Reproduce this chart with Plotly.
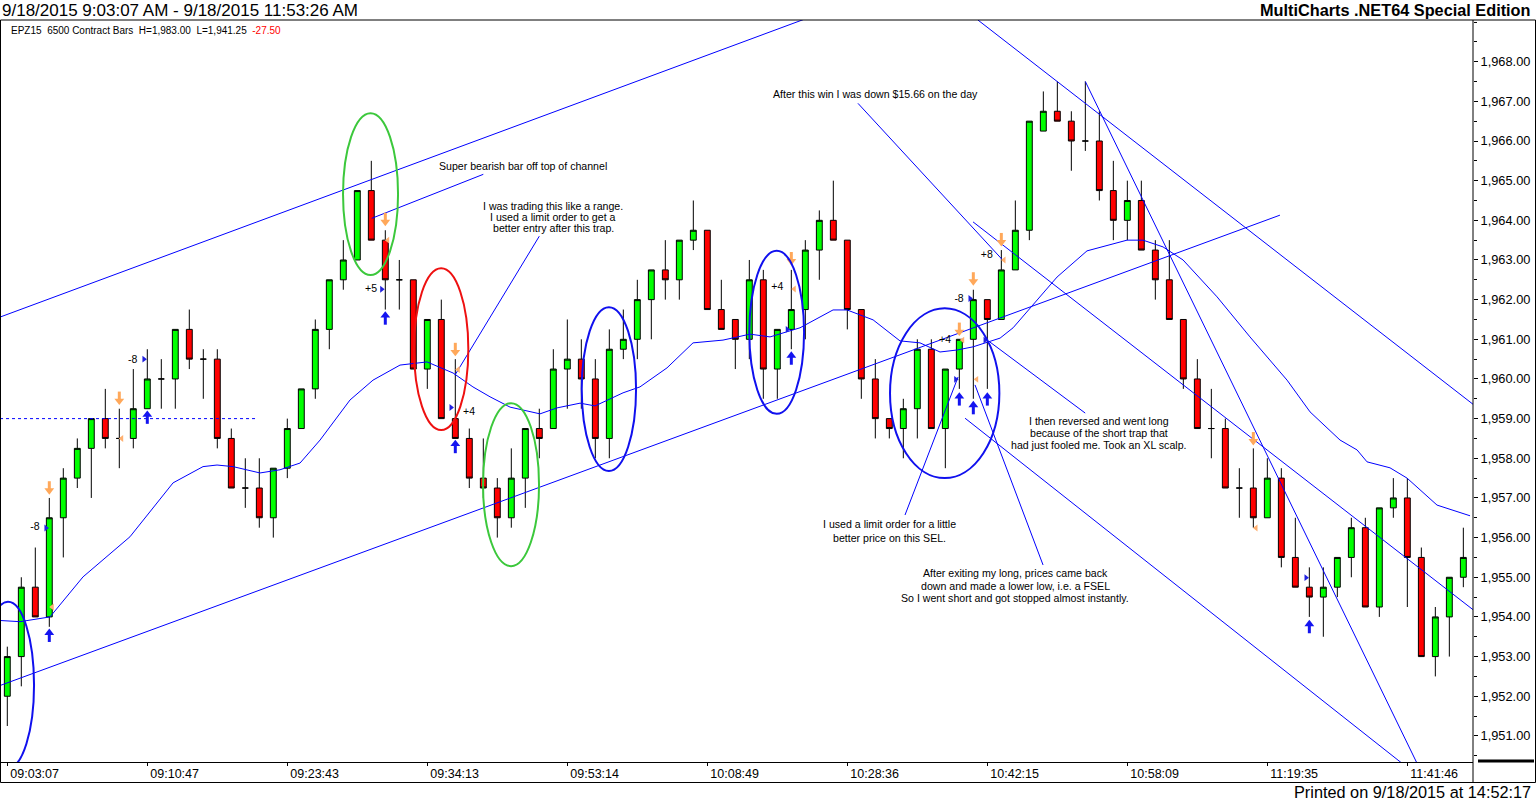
import plotly.graph_objects as go

# ---------------- data ----------------
bar_idx = list(range(105))
opens = [1952, 1953, 1954.75, 1954, 1956.5, 1957.5, 1958.25, 1959, 1958.5, 1958.5,
         1959.25, 1960, 1960, 1961.25, 1960.5, 1960.5, 1958.5, 1957.25, 1957.25, 1956.5,
         1957.75, 1958.75, 1959.75, 1961.25, 1962.5, 1963, 1964.75, 1963.5, 1962.5, 1962.5,
         1960.25, 1961.5, 1959, 1958.5, 1957.5, 1957.25, 1956.5, 1957.5, 1958.75, 1958.75,
         1960.25, 1960.5, 1960, 1958.5, 1960.75, 1961, 1962, 1962.75, 1962.5, 1963.5,
         1963.75, 1961.75, 1961.5, 1961, 1962.5, 1960.25, 1961.25, 1961.75, 1963.25, 1964,
         1963.5, 1961.75, 1960, 1959, 1958.75, 1959.25, 1960.75, 1958.75, 1960.25, 1961,
         1962, 1961.5, 1962.75, 1963.75, 1966.25, 1966.75, 1966.5, 1966, 1966, 1964.75,
         1964, 1964.5, 1963.25, 1962.5, 1961.5, 1960, 1958.75, 1958.75, 1957.25, 1957.25,
         1956.5, 1957.5, 1955.5, 1954.75, 1954.5, 1954.75, 1955.5, 1956.25, 1954.25, 1956.75,
         1957, 1955.5, 1953, 1954, 1955]
highs = [1953.25, 1955, 1955.75, 1957, 1957.75, 1958.5, 1959, 1959.75, 1959.25, 1960.25,
         1960.75, 1960.5, 1961.25, 1961.75, 1960.75, 1960.75, 1958.75, 1958, 1958, 1957.75,
         1959, 1959.75, 1961.5, 1962.5, 1963.5, 1964.75, 1965.5, 1963.75, 1963, 1962.5,
         1961.5, 1962, 1960.5, 1958.75, 1958.5, 1957.5, 1958.25, 1958.75, 1959.25, 1960.75,
         1961.5, 1961, 1960.5, 1961.25, 1961.75, 1962.5, 1962.75, 1963.5, 1963.5, 1964.5,
         1963.75, 1962.5, 1961.5, 1963, 1962.75, 1961.25, 1962.75, 1963.5, 1964.25, 1965,
         1963.5, 1961.75, 1960.5, 1959, 1959.5, 1961, 1961, 1960.25, 1961, 1962.25,
         1962, 1963.25, 1964.5, 1966.5, 1967.25, 1967.5, 1966.75, 1967.5, 1966.75, 1965.5,
         1965, 1965, 1963.5, 1963.5, 1961.5, 1960.5, 1959.75, 1959, 1957.75, 1958.25,
         1958, 1957.75, 1956.5, 1955.25, 1955.25, 1955.5, 1956.5, 1956.5, 1956.75, 1957.5,
         1957.5, 1955.75, 1954.25, 1955, 1956.25]
lows = [1951.25, 1952.25, 1954, 1953.75, 1955.5, 1957.25, 1957, 1958.25, 1957.75, 1958.25,
        1959.25, 1959.25, 1959.25, 1960.25, 1959.5, 1958.25, 1957.25, 1956.75, 1956.25, 1956,
        1957.5, 1958.75, 1959.5, 1960.75, 1962.25, 1963, 1963.5, 1961.75, 1961.75, 1960.25,
        1959.75, 1959, 1958.5, 1957.25, 1957, 1956, 1956.25, 1956.75, 1958, 1958.75,
        1959.25, 1959.25, 1958, 1958, 1960.5, 1960.5, 1961, 1962, 1962, 1963.25,
        1961.75, 1961.25, 1960.25, 1960.5, 1959.5, 1959.5, 1960.75, 1961, 1962.5, 1963.5,
        1961.25, 1959.5, 1958.5, 1958.5, 1958, 1958.5, 1958.75, 1957.75, 1959.75, 1959.5,
        1959.75, 1961.5, 1962.75, 1963.5, 1966.25, 1966.5, 1965.25, 1965.75, 1964.5, 1963.5,
        1963.5, 1963.25, 1962, 1961.5, 1959.75, 1958.75, 1958, 1957.25, 1956.5, 1956.25,
        1956.5, 1955.25, 1954.75, 1954, 1953.5, 1954.5, 1955, 1954.25, 1954, 1956.5,
        1954.25, 1953, 1952.5, 1953, 1954.75]
closes = [1953, 1954.75, 1954, 1956.5, 1957.5, 1958.25, 1959, 1958.5, 1958.5, 1959.25,
          1960, 1960, 1961.25, 1960.5, 1960.5, 1958.5, 1957.25, 1957.25, 1956.5, 1957.75,
          1958.75, 1959.75, 1961.25, 1962.5, 1963, 1964.75, 1963.5, 1962.5, 1962.5, 1960.25,
          1961.5, 1959, 1958.5, 1957.5, 1957.25, 1956.5, 1957.5, 1958.75, 1958.5, 1960.25,
          1960.5, 1960, 1958.5, 1960.75, 1961, 1962, 1962.75, 1962.5, 1963.5, 1963.75,
          1961.75, 1961.25, 1961, 1962.5, 1960.25, 1961.25, 1961.75, 1963.25, 1964, 1963.5,
          1961.75, 1960, 1959, 1958.75, 1959.25, 1960.75, 1958.75, 1960.25, 1961, 1962,
          1961.5, 1962.75, 1963.75, 1966.5, 1966.75, 1966.5, 1966, 1966, 1964.75, 1964,
          1964.5, 1963.25, 1962.5, 1961.5, 1960, 1958.75, 1958.75, 1957.25, 1957.25, 1956.5,
          1957.5, 1955.5, 1954.75, 1954.5, 1954.75, 1955.5, 1956.25, 1954.25, 1956.75, 1957,
          1955.5, 1953, 1954, 1955, 1955.5]

tick_bars = [0, 10, 20, 30, 40, 50, 60, 70, 80, 90, 100]
tick_times = ["09:03:07", "09:10:47", "09:23:43", "09:34:13", "09:53:14", "10:08:49",
              "10:28:36", "10:42:15", "10:58:09", "11:19:35", "11:41:46"]
price_ticks = [1951, 1952, 1953, 1954, 1955, 1956, 1957, 1958, 1959, 1960, 1961, 1962,
               1963, 1964, 1965, 1966, 1967, 1968]

# moving average (bar position, price)
ma_x = [-0.52, 0.91, 3.05, 5.41, 8.76, 11.84, 13.98, 14.98, 16.12, 18.05, 19.48, 20.91,
        22.34, 24.48, 26.12, 28.05, 29.98, 31.84, 33.26, 34.48, 35.91, 38.05, 39.26, 40.91,
        41.98, 43.98, 45.19, 47.12, 48.98, 51.12, 53.05, 54.48, 56.62, 58.98, 59.98, 61.84,
        63.76, 65.19, 66.62, 67.84, 68.98, 70.91, 71.84, 73.77, 74.98, 77.12, 79.98, 81.12,
        82.55, 83.98, 86.41, 88.76, 91.41, 93.05, 95.19, 96.41, 97.12, 98.76, 99.98, 102.12,
        104.48]
ma_y = [1953.91, 1953.88, 1954.00, 1955.01, 1956.02, 1957.38, 1957.79, 1957.83, 1957.79,
        1957.63, 1957.71, 1957.88, 1958.46, 1959.47, 1959.97, 1960.35, 1960.43, 1960.15,
        1959.80, 1959.55, 1959.29, 1959.12, 1959.27, 1959.39, 1959.32, 1959.65, 1959.80,
        1960.28, 1960.91, 1960.98, 1961.13, 1961.06, 1961.29, 1961.74, 1961.74, 1961.49,
        1960.96, 1960.91, 1960.68, 1960.73, 1960.81, 1961.03, 1961.29, 1962.07, 1962.57,
        1963.23, 1963.50, 1963.50, 1963.33, 1963.00, 1962.07, 1961.06, 1959.97, 1959.17,
        1958.46, 1958.21, 1957.91, 1957.76, 1957.50, 1956.82, 1956.55]

# hand-drawn trendlines: (bar0, price0, bar1, price1)
trendlines = [
    (-0.52, 1961.56, 57.0, 1969.08),
    (-0.52, 1952.27, 90.9, 1964.13),
    (26.03, 1964.05, 34.0, 1965.16),
    (31.98, 1960.10, 38.0, 1963.60),
    (60.76, 1966.95, 71.12, 1962.99),
    (68.98, 1963.96, 104.7, 1954.18),
    (69.33, 1969.05, 104.7, 1959.36),
    (68.41, 1959.01, 99.69, 1950.29),
    (77.0, 1967.5, 100.65, 1950.34),
    (64.12, 1956.57, 67.91, 1960.05),
    (69.12, 1959.85, 73.98, 1955.31),
    (70.19, 1960.93, 76.99, 1959.14),
]
dashed_level = 1959.0
dashed_span = (-0.52, 17.83)

# ellipses: (bar0, bar1, price_low, price_high, colour)
ellipses = [
    (-1.81, 1.91, 1950.19, 1954.38, "#1010EE"),
    (23.98, 27.91, 1962.62, 1966.70, "#3CC83C"),
    (29.05, 32.93, 1958.71, 1962.79, "#EE1010"),
    (33.98, 37.98, 1955.28, 1959.39, "#3CC83C"),
    (41.03, 44.91, 1957.68, 1961.81, "#1010EE"),
    (53.00, 56.91, 1959.12, 1963.23, "#1010EE"),
    (63.05, 70.86, 1957.50, 1961.78, "#1010EE"),
]

# trade markers
entry_up_x = [3, 10, 27, 32, 56, 68, 69, 70, 93]
entry_up_y = [1953.55, 1959.05, 1961.55, 1958.31, 1960.54, 1959.51, 1959.29, 1959.51, 1953.77]
exit_down_x = [3, 8, 27, 32, 56, 68, 69, 71, 89]
exit_down_y = [1957.24, 1959.50, 1964.01, 1960.73, 1963.02, 1961.24, 1962.51, 1963.50, 1958.48]
exit_tri_x = [3.21, 8.17, 27.17, 32.21, 56.21, 68.24, 69.24, 71.19, 89.19]
exit_tri_y = [1954.25, 1958.50, 1963.50, 1960.24, 1962.27, 1960.98, 1959.99, 1963.0, 1956.24]
entry_tri_x = [2.76, 9.76, 26.74, 31.69, 55.71, 67.74, 68.76, 69.84, 92.76]
entry_tri_y = [1956.24, 1960.50, 1962.26, 1959.28, 1961.25, 1959.99, 1962.03, 1960.98, 1954.99]
pl_x = [1.98, 8.96, 25.98, 32.98, 55.0, 66.98, 67.98, 69.96]
pl_y = [1956.25, 1960.48, 1962.26, 1959.15, 1962.31, 1960.97, 1962.01, 1963.11]
pl_text = ["-8", "-8", "+5", "+4", "+4", "+4", "-8", "+8"]

title_left = "9/18/2015 9:03:07 AM - 9/18/2015 11:53:26 AM"
title_right = "MultiCharts .NET64 Special Edition"
footer = "Printed on 9/18/2015 at 14:52:17"
legend_main = "EPZ15\u00a0\u00a06500 Contract Bars\u00a0\u00a0H=1,983.00\u00a0\u00a0L=1,941.25\u00a0\u00a0"
legend_chg = "-27.50"

notes = [  # (lines, x px, first-line y px, line step px, anchor)
    (["Super bearish bar off top of channel"], 437, 166, 0, "left"),
    (["I was trading this like a range.", "I used a limit order to get a",
      "better entry after this trap."], 553, 205.5, 11.4, "center"),
    (["After this win I was down $15.66 on the day"], 875.5, 94, 0, "center"),
    (["I then reversed and went long", "because of the short trap that",
      "had just fooled me. Took an XL scalp."], 1099, 420.7, 12.2, "center"),
    (["I used a limit order for a little", "better price on this SEL."], 889.3, 524.3, 14, "center"),
    (["After exiting my long, prices came back", "down and made a lower low, i.e. a FSEL",
      "So I went short and got stopped almost instantly."], 1015, 573.3, 12.5, "center"),
]

# ---------------- geometry ----------------
W, H = 1536, 801
L, R, T, B = 1, 1473, 20, 762
PW, PH = R - L, B - T
X_LO, X_HI = -0.45, 104.69
Y_LO, Y_HI = 1950.342, 1969.051
PPX = (Y_HI - Y_LO) / PH
FONT = "Liberation Sans, Arial, sans-serif"


def dxp(px):
    return X_LO + (px - L) / PW * (X_HI - X_LO)


def dyp(py):
    return Y_HI - (py - T) / PH * (Y_HI - Y_LO)


def pxp(px):
    return (px - L) / PW


def pyp(py):
    return (B - py) / PH


fig = go.Figure()

fig.add_trace(go.Candlestick(
    x=bar_idx, open=opens, high=highs, low=lows, close=closes,
    increasing=dict(fillcolor="#00FF00", line=dict(color="black", width=1)),
    decreasing=dict(fillcolor="#FF0000", line=dict(color="black", width=1)),
    whiskerwidth=0, hoverinfo="skip", showlegend=False,
))

fig.add_trace(go.Scatter(x=ma_x, y=ma_y, mode="lines",
                         line=dict(color="#0000FF", width=1), hoverinfo="skip"))

lx, ly = [], []
for x0, y0, x1, y1 in trendlines:
    lx += [x0, x1, None]
    ly += [y0, y1, None]
fig.add_trace(go.Scatter(x=lx, y=ly, mode="lines",
                         line=dict(color="#0000FF", width=1), hoverinfo="skip"))
fig.add_trace(go.Scatter(x=list(dashed_span), y=[dashed_level, dashed_level], mode="lines",
                         line=dict(color="#0000FF", width=1, dash="3px,3px"), hoverinfo="skip"))

# entry arrows (blue, up)
fig.add_trace(go.Scatter(x=entry_up_x, y=[v - 3 * PPX for v in entry_up_y], mode="markers",
                         marker=dict(symbol="line-ns", size=6, line=dict(color="#1414F0", width=3)),
                         hoverinfo="skip"))
fig.add_trace(go.Scatter(x=entry_up_x, y=[v + 2 * PPX for v in entry_up_y], mode="markers",
                         marker=dict(symbol="triangle-up", size=8.5, color="#1414F0", line=dict(width=0)),
                         hoverinfo="skip"))
# exit arrows (orange, down)
fig.add_trace(go.Scatter(x=exit_down_x, y=[v + 3 * PPX for v in exit_down_y], mode="markers",
                         marker=dict(symbol="line-ns", size=6, line=dict(color="#FFA85A", width=3)),
                         hoverinfo="skip"))
fig.add_trace(go.Scatter(x=exit_down_x, y=[v - 2 * PPX for v in exit_down_y], mode="markers",
                         marker=dict(symbol="triangle-down", size=8.5, color="#FFA85A", line=dict(width=0)),
                         hoverinfo="skip"))
fig.add_trace(go.Scatter(x=exit_tri_x, y=exit_tri_y, mode="markers",
                         marker=dict(symbol="triangle-left", size=6, color="#FFB070", line=dict(width=0)),
                         hoverinfo="skip"))
fig.add_trace(go.Scatter(x=entry_tri_x, y=entry_tri_y, mode="markers",
                         marker=dict(symbol="triangle-right", size=6, color="#2020E0", line=dict(width=0)),
                         hoverinfo="skip"))
fig.add_trace(go.Scatter(x=pl_x, y=pl_y, mode="text", text=pl_text, textposition="middle center",
                         textfont=dict(family=FONT, size=10.5, color="black"), hoverinfo="skip"))

shapes = []
for x0, x1, y0, y1, col in ellipses:
    shapes.append(dict(type="circle", xref="x", yref="y", x0=x0, x1=x1, y0=y0, y1=y1,
                       line=dict(color=col, width=2), layer="above"))
# outer frame and axis-panel borders
shapes.append(dict(type="rect", xref="paper", yref="paper", x0=pxp(0.5), x1=pxp(1535.5),
                   y0=pyp(782.5), y1=pyp(20), line=dict(color="black", width=1)))
shapes.append(dict(type="line", xref="paper", yref="paper", x0=pxp(1473), x1=pxp(1473),
                   y0=pyp(782.5), y1=pyp(20), line=dict(color="black", width=1)))
shapes.append(dict(type="line", xref="paper", yref="paper", x0=pxp(1478), x1=pxp(1534),
                   y0=pyp(761), y1=pyp(761), line=dict(color="black", width=3)))

annotations = []
for lines, cx, y0, step, anch in notes:
    for i, t in enumerate(lines):
        annotations.append(dict(x=dxp(cx), y=dyp(y0 + i * step), xref="x", yref="y", text=t,
                                showarrow=False, xanchor=anch, yanchor="middle",
                                font=dict(family=FONT, size=10.6, color="black")))
annotations.append(dict(x=pxp(0), y=pyp(10), xref="paper", yref="paper", text=title_left,
                        showarrow=False, xanchor="left", yanchor="middle",
                        font=dict(family=FONT, size=17, color="black")))
annotations.append(dict(x=pxp(1533), y=pyp(10), xref="paper", yref="paper",
                        text="<b>" + title_right + "</b>",
                        showarrow=False, xanchor="right", yanchor="middle",
                        font=dict(family=FONT, size=16.3, color="black")))
annotations.append(dict(x=pxp(1533), y=pyp(792), xref="paper", yref="paper", text=footer,
                        showarrow=False, xanchor="right", yanchor="middle",
                        font=dict(family=FONT, size=16.3, color="black")))
annotations.append(dict(x=pxp(9), y=pyp(30), xref="paper", yref="paper",
                        text=legend_main + "<span style='color:#FF0000'>" + legend_chg + "</span>",
                        showarrow=False, xanchor="left", yanchor="middle",
                        font=dict(family=FONT, size=10, color="black")))

fig.update_layout(
    width=W, height=H, autosize=False,
    margin=dict(l=L, r=W - R, t=T, b=H - B, pad=0),
    paper_bgcolor="white", plot_bgcolor="white",
    showlegend=False, hovermode=False, boxgap=0.4,
    shapes=shapes, annotations=annotations,
    font=dict(family=FONT, color="black"),
    xaxis=dict(range=[X_LO, X_HI], rangeslider=dict(visible=False), showgrid=False,
               zeroline=False, tickmode="array", tickvals=tick_bars, ticktext=tick_times,
               ticks="outside", ticklen=3, tickcolor="black", tickwidth=1,
               showline=True, linecolor="black", linewidth=1,
               ticklabelposition="outside right", ticklabelshift=2,
               tickfont=dict(family=FONT, size=12.5, color="black"), fixedrange=True),
    yaxis=dict(range=[Y_LO, Y_HI], side="right", showgrid=False, zeroline=False,
               tickmode="array", tickvals=price_ticks, tickformat=",.2f",
               ticks="outside", ticklen=4,
               tickcolor="black", tickwidth=1, showline=False,
               minor=dict(dtick=0.5, tick0=1950, ticks="outside", ticklen=3, tickcolor="black"),
               tickfont=dict(family=FONT, size=12.8, color="black"), fixedrange=True),
)

fig.write_html("out.html", config={"displayModeBar": False},
               post_script="document.body.style.margin='0';document.body.style.overflow='hidden';")
